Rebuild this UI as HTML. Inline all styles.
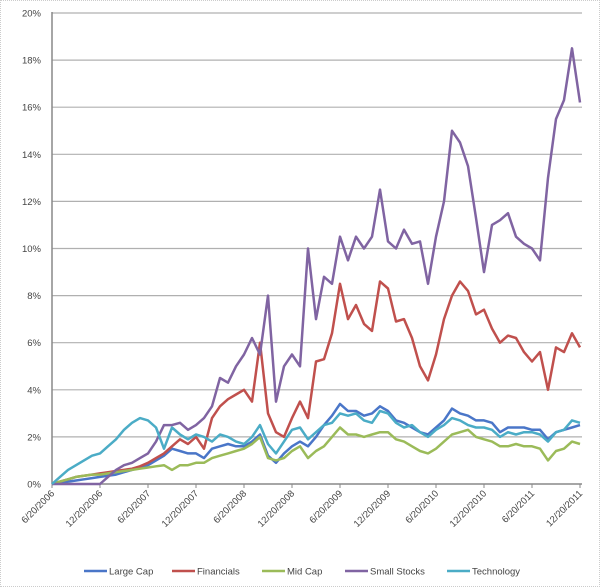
<!DOCTYPE html>
<html><head><meta charset="utf-8"><style>
html,body{margin:0;padding:0;background:#fff;}
#wrap{position:relative;width:600px;height:587px;box-sizing:border-box;border:1px dotted #ccc;overflow:hidden;}
svg{position:absolute;left:0;top:0;font-family:"Liberation Sans",sans-serif;}
</style></head><body>
<div id="wrap">
<svg id="chart" width="600" height="587"></svg>
</div>
<script>
const xTickLabels=["6/20/2006","12/20/2006","6/20/2007","12/20/2007","6/20/2008","12/20/2008","6/20/2009","12/20/2009","6/20/2010","12/20/2010","6/20/2011","12/20/2011"];
const yTicks=[0,2,4,6,8,10,12,14,16,18,20];
const seriesNames=["Large Cap","Financials","Mid Cap","Small Stocks","Technology"];
const seriesColors=["#4a76c8","#c0504d","#9bbb59","#8064a2","#4bacc6"];
const largeCap=[0,.05,.1,.15,.2,.25,.3,.35,.4,.5,
.6,.7,.8,1.0,1.2,1.5,1.4,1.3,1.3,1.1,
1.5,1.6,1.7,1.6,1.6,1.8,2.1,1.2,.9,1.3,
1.6,1.8,1.6,2.0,2.5,2.9,3.4,3.1,3.1,2.9,
3.0,3.3,3.1,2.7,2.6,2.4,2.2,2.1,2.4,2.7,
3.2,3.0,2.9,2.7,2.7,2.6,2.2,2.4,2.4,2.4,
2.3,2.3,1.9,2.2,2.3,2.4,2.5];
const financials=[0,.1,.2,.3,.35,.4,.45,.5,.55,.6,
.65,.75,.9,1.1,1.3,1.6,1.9,1.7,2.0,1.5,
2.8,3.3,3.6,3.8,4.0,3.5,6.0,3.0,2.2,2.0,
2.8,3.5,2.8,5.2,5.3,6.4,8.5,7.0,7.6,6.8,
6.5,8.6,8.3,6.9,7.0,6.2,5.0,4.4,5.5,7.0,
8.0,8.6,8.2,7.2,7.4,6.6,6.0,6.3,6.2,5.6,
5.2,5.6,4.0,5.8,5.6,6.4,5.8];
const midCap=[0,.1,.2,.3,.35,.4,.4,.45,.5,.55,
.6,.65,.7,.75,.8,.6,.8,.8,.9,.9,
1.1,1.2,1.3,1.4,1.5,1.7,2.0,1.1,1.0,1.1,
1.4,1.6,1.1,1.4,1.6,2.0,2.4,2.1,2.1,2.0,
2.1,2.2,2.2,1.9,1.8,1.6,1.4,1.3,1.5,1.8,
2.1,2.2,2.3,2.0,1.9,1.8,1.6,1.6,1.7,1.6,
1.6,1.5,1.0,1.4,1.5,1.8,1.7];
const smallStocks=[0,0,0,0,0,0,0,.3,.6,.8,
.9,1.1,1.3,1.8,2.5,2.5,2.6,2.3,2.5,2.8,
3.3,4.5,4.3,5.0,5.5,6.2,5.5,8.0,3.5,5.0,
5.5,5.0,10.0,7.0,8.8,8.5,10.5,9.5,10.5,10.0,
10.5,12.5,10.3,10.0,10.8,10.2,10.3,8.5,10.5,12.0,
15.0,14.5,13.5,11.3,9.0,11.0,11.2,11.5,10.5,10.2,
10.0,9.5,13.0,15.5,16.3,18.5,16.2];
const technology=[0,.3,.6,.8,1.0,1.2,1.3,1.6,1.9,2.3,
2.6,2.8,2.7,2.4,1.5,2.4,2.1,1.9,2.1,2.0,
1.8,2.1,2.0,1.8,1.7,2.0,2.5,1.7,1.3,1.8,
2.3,2.4,1.9,2.2,2.5,2.6,3.0,2.9,3.0,2.7,
2.6,3.1,3.0,2.6,2.4,2.5,2.2,2.0,2.3,2.5,
2.8,2.7,2.5,2.4,2.4,2.3,2.0,2.2,2.1,2.2,
2.2,2.1,1.8,2.2,2.3,2.7,2.6];
const allSeries=[largeCap,financials,midCap,smallStocks,technology];

const NS="http://www.w3.org/2000/svg";
const svg=document.getElementById("chart");
const X0=51,X1=579,Y0=483,Y20=12;
function xScale(month){return X0+(X1-X0)*month/66;}
function yScale(v){return Y0-(Y0-Y20)*v/20;}
function mk(tag,attrs,parent){const e=document.createElementNS(NS,tag);for(const k in attrs)e.setAttribute(k,attrs[k]);(parent||svg).appendChild(e);return e;}

const grid=mk("g",{});


yTicks.forEach(t=>{
  if(t>0){const l=mk("line",{x1:X0,x2:X1+2,y1:yScale(t),y2:yScale(t),stroke:"#b0b0b0","stroke-width":1.2},grid);
  
  }
  const tx=mk("text",{x:40,y:yScale(t)+3.5,"text-anchor":"end","font-size":"9.5",fill:"#444"});
  tx.textContent=t+"%";
  
  
});
const yAxis=mk("line",{x1:X0,x2:X0,y1:Y20-1,y2:Y0,stroke:"#888","stroke-width":1.5});


const xAxis=mk("line",{x1:X0,x2:X1+2,y1:Y0,y2:Y0,stroke:"#888","stroke-width":1.5});


xTickLabels.forEach((lab,i)=>{
  const x=xScale(i*6);
  const tk=mk("line",{x1:x,x2:x,y1:Y0,y2:Y0+4,stroke:"#888"});
  
  
  const tx=mk("text",{x:x+3,y:Y0+10,"text-anchor":"end","font-size":"9.5",fill:"#444",transform:`rotate(-45 ${x+3} ${Y0+10})`});
  tx.textContent=lab;
  
  
});
allSeries.forEach((data,si)=>{
  const pts=data.map((v,i)=>xScale(i).toFixed(1)+","+yScale(v).toFixed(1)).join(" ");
  const pl=mk("polyline",{points:pts,fill:"none",stroke:seriesColors[si],"stroke-width":2.5,"stroke-linejoin":"round"});
  
  
});
const legendX=[83,171,261,344,446];
const leg=mk("g",{});


seriesNames.forEach((n,i)=>{
  const g=mk("g",{},leg);
  
  
  mk("line",{x1:legendX[i],x2:legendX[i]+23,y1:570,y2:570,stroke:seriesColors[i],"stroke-width":2.5},g);
  const t=mk("text",{x:legendX[i]+25,y:573.5,"font-size":"9.5",fill:"#444"},g);
  t.textContent=n;
});
</script>
</body></html>
